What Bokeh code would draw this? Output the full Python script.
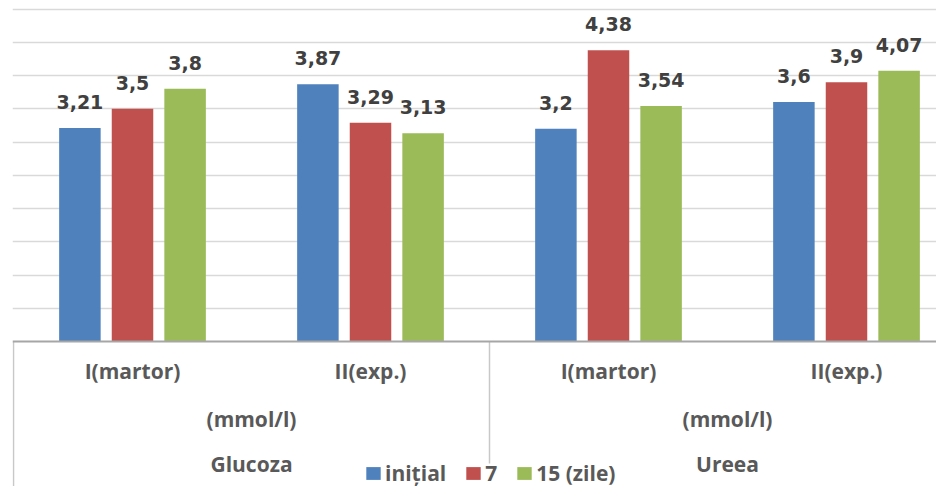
import numpy as np
from bokeh.plotting import figure
from bokeh.models import Range1d, Grid, SingleIntervalTicker, Legend, LegendItem, Span
from bokeh.core.properties import value
from bokeh.embed import file_html
from bokeh.resources import INLINE

# ---- data ----
indicators = ["Glucoza", "Ureea"]
units = ["(mmol/l)", "(mmol/l)"]
groups = ["I(martor)", "II(exp.)", "I(martor)", "II(exp.)"]
series = ["inițial", "7", "15 (zile)"]
initial = [3.21, 3.87, 3.2, 3.6]
day7 = [3.5, 3.29, 4.38, 3.9]
day15 = [3.8, 3.13, 3.54, 4.07]
colors = ["#4f81bd", "#c0504d", "#9bbb59"]

# ---- layout (pixels, relative to the figure's top-left corner) ----
W, H = 936, 486
PX_GROUP = 238.0     # px per category group
PX_UNIT = 66.5       # px per y unit
AXIS_Y = 341.0       # y of the value 0
FRAME_LEFT = 12
ORIGIN_X = 13

x_start = (FRAME_LEFT - ORIGIN_X) / PX_GROUP
x_end = (W - ORIGIN_X) / PX_GROUP
y_top = AXIS_Y / PX_UNIT
y_bot = (AXIS_Y - H) / PX_UNIT

p = figure(width=W, height=H, output_backend="svg", toolbar_location=None,
           x_axis_location=None, y_axis_location=None,
           x_range=Range1d(x_start, x_end), y_range=Range1d(y_bot, y_top),
           min_border_left=FRAME_LEFT, min_border_right=0,
           min_border_top=0, min_border_bottom=0)
p.outline_line_color = None
p.background_fill_color = "white"
p.border_fill_color = "white"
p.grid.visible = False

grid = Grid(dimension=1, ticker=SingleIntervalTicker(interval=0.5), bounds=(0.25, 5.25),
            grid_line_color="#d9d9d9", grid_line_width=1.5)
p.add_layout(grid)

gx = np.arange(len(groups)) + 0.5
step = 0.221
bw = 0.1744
font_lbl = value("DejaVu Sans")
font_cat = value("Open Sans")

renderers = []
for j, (vals, col) in enumerate(zip([initial, day7, day15], colors)):
    xs = gx + (j - 1) * step
    r = p.vbar(x=xs, top=vals, width=bw, fill_color=col, line_color=None)
    renderers.append(r)
    txt = [f"{v:g}".replace(".", ",") for v in vals]
    p.text(x=xs, y=vals, text=txt, text_align="center", text_baseline="alphabetic",
           y_offset=-26, text_font=font_lbl, text_font_style="bold",
           text_font_size="19px", text_color="#404040")

# category axis line
p.add_layout(Span(location=0, dimension="width", line_color="#a6a6a6", line_width=2))

# category separators (left border and between indicators)
sep_x = [0.0, 2.0]
sep_bottom = [y_bot, -(463 - AXIS_Y) / PX_UNIT]
p.segment(x0=sep_x, y0=[0, 0], x1=sep_x, y1=sep_bottom, line_color="#c8c8c8", line_width=1.5)

# multi-level category labels
cat_style = dict(text_align="center", text_baseline="alphabetic", text_font=font_cat,
                 text_font_style="bold", text_font_size="21px", text_color="#595959")
p.text(x=gx, y=[0] * len(groups), text=groups, y_offset=29, **cat_style)
outer_x = [1.0, 3.0]
p.text(x=outer_x, y=[0, 0], text=units, y_offset=77, **cat_style)
p.text(x=outer_x, y=[0, 0], text=indicators, y_offset=122, **cat_style)

legend = Legend(items=[LegendItem(label=s, renderers=[r]) for s, r in zip(series, renderers)],
                orientation="horizontal", location=(352, -1), padding=0, margin=0,
                border_line_color=None, background_fill_alpha=0,
                glyph_width=18, glyph_height=16, label_standoff=3, spacing=18,
                label_width=0, label_height=20,
                label_text_font="Open Sans", label_text_font_style="bold",
                label_text_font_size="21px", label_text_color="#595959")
p.add_layout(legend)

open("out.html", "w").write(file_html(p, INLINE))
